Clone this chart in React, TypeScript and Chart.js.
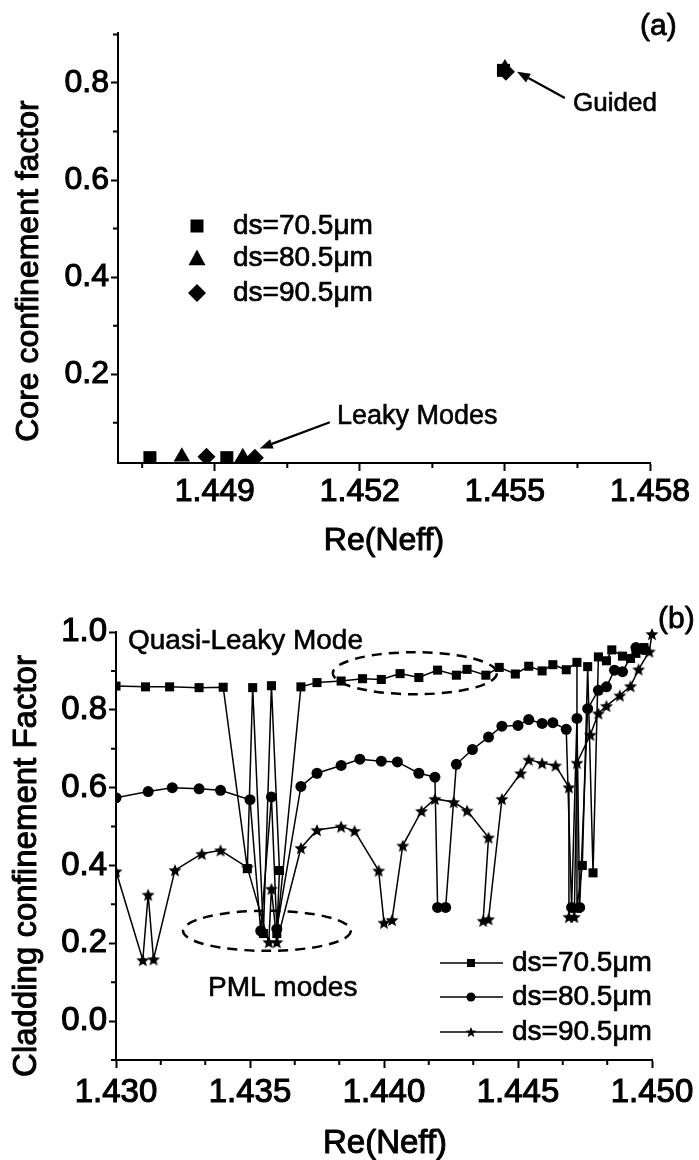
import React, { useEffect, useRef } from "react";
import { Chart, registerables } from "chart.js";

Chart.register(...registerables);

const FONT = '"Liberation Sans", Arial, Helvetica, sans-serif';

// ---------------- Panel (a) data ----------------
const seriesNames = ["ds=70.5μm", "ds=80.5μm", "ds=90.5μm"];
const a70X = [1.44766, 1.44925, 1.45497];
const a70Y = [0.028, 0.028, 0.826];
const a80X = [1.44832, 1.44958, 1.455];
const a80Y = [0.03, 0.029, 0.83];
const a90X = [1.44883, 1.44983, 1.45502];
const a90Y = [0.03, 0.028, 0.823];
const aXTicks = [1.449, 1.452, 1.455, 1.458];
const aXMinor = [1.4475, 1.4505, 1.4535, 1.4565];
const aYTicks = [0.2, 0.4, 0.6, 0.8];
const aYMinor = [0.1, 0.3, 0.5, 0.7, 0.9];

// ---------------- Panel (b) data ----------------
const b70X = [1.43, 1.4311, 1.432, 1.4331, 1.434, 1.4349, 1.4351, 1.4355, 1.4358, 1.4361, 1.436, 1.4369, 1.4375, 1.4384, 1.4392, 1.4399, 1.4406, 1.4413, 1.442, 1.4427, 1.4431, 1.4438, 1.4443, 1.4449, 1.4454, 1.4459, 1.4463, 1.4468, 1.4472, 1.4472, 1.4474, 1.4476, 1.4478, 1.448, 1.4483, 1.4485, 1.4489, 1.4492, 1.4494, 1.4497];
const b70Y = [0.861, 0.859, 0.859, 0.857, 0.858, 0.392, 0.857, 0.225, 0.862, 0.387, 0.225, 0.859, 0.87, 0.874, 0.88, 0.878, 0.893, 0.883, 0.902, 0.889, 0.904, 0.889, 0.909, 0.892, 0.912, 0.9, 0.916, 0.903, 0.922, 0.29, 0.4, 0.911, 0.381, 0.936, 0.926, 0.954, 0.938, 0.932, 0.945, 0.96];
const b80X = [1.43, 1.4312, 1.4321, 1.4331, 1.4339, 1.435, 1.4354, 1.4358, 1.436, 1.4369, 1.4375, 1.4384, 1.4391, 1.4399, 1.4405, 1.4413, 1.4419, 1.442, 1.4423, 1.4427, 1.4433, 1.4439, 1.4444, 1.445, 1.4454, 1.4459, 1.4463, 1.4468, 1.447, 1.4472, 1.4473, 1.4476, 1.448, 1.4483, 1.4486, 1.4489, 1.4494, 1.4497];
const b80Y = [0.574, 0.59, 0.6, 0.597, 0.593, 0.569, 0.232, 0.576, 0.237, 0.603, 0.637, 0.657, 0.673, 0.668, 0.666, 0.637, 0.627, 0.292, 0.292, 0.66, 0.698, 0.73, 0.758, 0.76, 0.775, 0.765, 0.767, 0.75, 0.292, 0.778, 0.292, 0.803, 0.85, 0.859, 0.902, 0.898, 0.96, 0.955];
const b90X = [1.43, 1.431, 1.4312, 1.4314, 1.4322, 1.4332, 1.4339, 1.4349, 1.4357, 1.4358, 1.436, 1.4369, 1.4375, 1.4384, 1.4389, 1.4398, 1.44, 1.4403, 1.4407, 1.4414, 1.4419, 1.4426, 1.4431, 1.4439, 1.4437, 1.4439, 1.4444, 1.4451, 1.4454, 1.4459, 1.4464, 1.4469, 1.4469, 1.4471, 1.4472, 1.4477, 1.448, 1.4483, 1.4488, 1.4492, 1.4495, 1.4499, 1.45];
const b90Y = [0.385, 0.157, 0.325, 0.159, 0.388, 0.43, 0.439, 0.395, 0.203, 0.34, 0.203, 0.445, 0.491, 0.5, 0.489, 0.387, 0.253, 0.26, 0.451, 0.54, 0.571, 0.563, 0.541, 0.472, 0.258, 0.262, 0.571, 0.637, 0.672, 0.663, 0.657, 0.601, 0.268, 0.268, 0.664, 0.736, 0.791, 0.81, 0.837, 0.861, 0.904, 0.95, 0.995];
const bXTicks = [1.43, 1.435, 1.44, 1.445, 1.45];
const bXMinor = [1.43167, 1.43333, 1.43667, 1.43833, 1.44167, 1.44333, 1.44667, 1.44833];
const bYTicks = [0.0, 0.2, 0.4, 0.6, 0.8, 1.0];
const bYMinor = [-0.1, 0.1, 0.3, 0.5, 0.7, 0.9];

type Pt = { x: number; y: number };
const zip = (xs: number[], ys: number[]): Pt[] => xs.map((x, i) => ({ x, y: ys[i] }));

function starPath(ctx: CanvasRenderingContext2D, cx: number, cy: number, R: number, r: number) {
  ctx.beginPath();
  for (let i = 0; i < 10; i++) {
    const ang = -Math.PI / 2 + (i * Math.PI) / 5;
    const rad = i % 2 === 0 ? R : r;
    const px = cx + rad * Math.cos(ang);
    const py = cy + rad * Math.sin(ang);
    if (i === 0) ctx.moveTo(px, py);
    else ctx.lineTo(px, py);
  }
  ctx.closePath();
}

function makeStarImage(R: number): HTMLCanvasElement {
  const c = document.createElement("canvas");
  const s = Math.ceil(2 * R + 2);
  c.width = s;
  c.height = s;
  const ctx = c.getContext("2d")!;
  ctx.fillStyle = "#000";
  starPath(ctx, s / 2, s / 2 + R * 0.1, R, R * 0.45);
  ctx.fill();
  return c;
}

function drawMarker(ctx: CanvasRenderingContext2D, style: string, x: number, y: number, size: number) {
  ctx.save();
  ctx.fillStyle = "#000";
  const h = size / 2;
  if (style === "rect") {
    ctx.fillRect(x - h, y - h, size, size);
  } else if (style === "circle") {
    ctx.beginPath();
    ctx.arc(x, y, h, 0, Math.PI * 2);
    ctx.fill();
  } else if (style === "triangle") {
    ctx.beginPath();
    ctx.moveTo(x, y - h);
    ctx.lineTo(x + h, y + h * 0.85);
    ctx.lineTo(x - h, y + h * 0.85);
    ctx.closePath();
    ctx.fill();
  } else if (style === "rectRot") {
    ctx.beginPath();
    ctx.moveTo(x, y - h);
    ctx.lineTo(x + h, y);
    ctx.lineTo(x, y + h);
    ctx.lineTo(x - h, y);
    ctx.closePath();
    ctx.fill();
  } else if (style === "star") {
    starPath(ctx, x, y + h * 0.1, h, h * 0.45);
    ctx.fill();
  }
  ctx.restore();
}

function text(ctx: CanvasRenderingContext2D, s: string, x: number, y: number, size: number, stroke = 0.6, align: CanvasTextAlign = "left", rot = 0) {
  ctx.save();
  ctx.fillStyle = "#000";
  ctx.strokeStyle = "#000";
  ctx.lineJoin = "round";
  ctx.font = `${size}px ${FONT}`;
  ctx.textAlign = align;
  ctx.textBaseline = "middle";
  ctx.translate(x, y);
  if (rot) ctx.rotate(rot);
  ctx.fillText(s, 0, 0);
  if (stroke > 0) {
    ctx.lineWidth = stroke;
    ctx.strokeText(s, 0, 0);
  }
  ctx.restore();
}

function arrow(ctx: CanvasRenderingContext2D, x1: number, y1: number, x2: number, y2: number) {
  ctx.save();
  ctx.strokeStyle = "#000";
  ctx.fillStyle = "#000";
  ctx.lineWidth = 2.2;
  const ang = Math.atan2(y2 - y1, x2 - x1);
  const hl = 13;
  const hw = 5;
  const bx = x2 - hl * Math.cos(ang);
  const by = y2 - hl * Math.sin(ang);
  ctx.beginPath();
  ctx.moveTo(x1, y1);
  ctx.lineTo(bx, by);
  ctx.stroke();
  ctx.beginPath();
  ctx.moveTo(x2, y2);
  ctx.lineTo(bx + hw * Math.sin(ang), by - hw * Math.cos(ang));
  ctx.lineTo(bx - hw * Math.sin(ang), by + hw * Math.cos(ang));
  ctx.closePath();
  ctx.fill();
  ctx.restore();
}

function minorTicks(chart: any, xs: number[], ys: number[], len: number) {
  const ctx: CanvasRenderingContext2D = chart.ctx;
  const xS = chart.scales.x;
  const yS = chart.scales.y;
  const a = chart.chartArea;
  ctx.save();
  ctx.strokeStyle = "#000";
  ctx.lineWidth = 2;
  ctx.beginPath();
  xs.forEach((v) => {
    const p = xS.getPixelForValue(v);
    ctx.moveTo(p, a.bottom);
    ctx.lineTo(p, a.bottom + len);
  });
  ys.forEach((v) => {
    const p = yS.getPixelForValue(v);
    ctx.moveTo(a.left, p);
    ctx.lineTo(a.left - len, p);
  });
  ctx.stroke();
  ctx.restore();
}

function dashedEllipse(chart: any, cx: number, cy: number, rx: number, ry: number) {
  const ctx: CanvasRenderingContext2D = chart.ctx;
  const xS = chart.scales.x;
  const yS = chart.scales.y;
  const px = xS.getPixelForValue(cx);
  const py = yS.getPixelForValue(cy);
  const prx = Math.abs(xS.getPixelForValue(cx + rx) - px);
  const pry = Math.abs(yS.getPixelForValue(cy + ry) - py);
  ctx.save();
  ctx.strokeStyle = "#000";
  ctx.lineWidth = 2.5;
  ctx.setLineDash([10, 7]);
  ctx.beginPath();
  ctx.ellipse(px, py, prx, pry, 0, 0, Math.PI * 2);
  ctx.stroke();
  ctx.restore();
}

const annotA = {
  id: "annotA",
  afterDraw(chart: any) {
    const ctx: CanvasRenderingContext2D = chart.ctx;
    const xS = chart.scales.x;
    const yS = chart.scales.y;
    minorTicks(chart, aXMinor, aYMinor, 5);
    text(ctx, "Core confinement factor", 29, 271, 32, 1.0, "center", -Math.PI / 2);
    text(ctx, "Re(Neff)", 384, 541, 32, 1.0, "center");
    text(ctx, "(a)", 640, 27, 30, 0.8);
    text(ctx, "Guided", 573, 104, 26, 0.6);
    text(ctx, "Leaky Modes", 337, 417, 27, 0.6);
    arrow(ctx, xS.getPixelForValue(1.45624), yS.getPixelForValue(0.769), xS.getPixelForValue(1.45525), yS.getPixelForValue(0.823));
    arrow(ctx, xS.getPixelForValue(1.45138), yS.getPixelForValue(0.101), xS.getPixelForValue(1.44993), yS.getPixelForValue(0.047));
    const styles = ["rect", "triangle", "rectRot"];
    const sizes = [13, 17, 18];
    const rows = [226, 258, 293];
    seriesNames.forEach((n, i) => {
      drawMarker(ctx, styles[i], 197, rows[i], sizes[i]);
      text(ctx, n, 233, rows[i], 28, 0.7);
    });
  },
};

const annotB = {
  id: "annotB",
  afterDraw(chart: any) {
    const ctx: CanvasRenderingContext2D = chart.ctx;
    minorTicks(chart, bXMinor, bYMinor, 5);
    text(ctx, "Cladding confinement Factor", 27, 286, 33, 1.0, "center", -Math.PI / 2);
    text(ctx, "Re(Neff)", 385, 564, 33, 1.0, "center");
    text(ctx, "(b)", 658, 40, 30, 0.8);
    text(ctx, "Quasi-Leaky Mode", 128, 61, 28, 0.6);
    text(ctx, "PML modes", 208, 408, 28, 0.6);
    dashedEllipse(chart, 1.44115, 0.894, 0.00306, 0.054);
    dashedEllipse(chart, 1.43563, 0.232, 0.00313, 0.0515);
    const styles = ["rect", "circle", "star"];
    const sizes = [8, 9, 11];
    const rows = [383, 417, 452];
    seriesNames.forEach((n, i) => {
      ctx.save();
      ctx.strokeStyle = "#000";
      ctx.lineWidth = 1.3;
      ctx.beginPath();
      ctx.moveTo(440, rows[i]);
      ctx.lineTo(503, rows[i]);
      ctx.stroke();
      ctx.restore();
      drawMarker(ctx, styles[i], 471, rows[i], sizes[i]);
      text(ctx, n, 512, rows[i], 28, 0.7);
    });
  },
};

function axisStyle(tickSize: number, pad: number, tickLen: number, fmt: number) {
  return {
    ticks: {
      font: { family: FONT, size: tickSize },
      color: "#000",
      textStrokeColor: "#000",
      textStrokeWidth: 1.1,
      padding: pad,
      maxRotation: 0,
      autoSkip: false,
      callback: (v: any) => Number(v).toFixed(fmt),
    },
    grid: { display: true, drawOnChartArea: false, drawTicks: true, tickLength: tickLen, tickWidth: 2, tickColor: "#000" },
    border: { display: true, color: "#000", width: 2 },
  };
}

export default function App() {
  const refA = useRef<HTMLCanvasElement>(null);
  const refB = useRef<HTMLCanvasElement>(null);

  useEffect(() => {
    const star = makeStarImage(6.8);
    const clipA = { left: 0, top: 30, right: 30, bottom: 0 };
    const clipB = { left: 0, top: 20, right: 20, bottom: 10 };
    const pointBase = { pointBackgroundColor: "#000", pointBorderColor: "#000", pointBorderWidth: 0, borderColor: "#000", backgroundColor: "#000" };

    const chartA = new Chart(refA.current!, {
      type: "scatter",
      data: {
        datasets: [
          { label: seriesNames[0], data: zip(a70X, a70Y), pointStyle: "rect", pointRadius: 9.2, showLine: false, clip: clipA, ...pointBase },
          { label: seriesNames[1], data: zip(a80X, a80Y), pointStyle: "triangle", pointRadius: 9.5, showLine: false, clip: clipA, ...pointBase },
          { label: seriesNames[2], data: zip(a90X, a90Y), pointStyle: "rectRot", pointRadius: 9, showLine: false, clip: clipA, ...pointBase },
        ],
      },
      options: {
        responsive: false,
        animation: false,
        events: [],
        layout: { padding: { left: 0, top: 33, right: 49, bottom: 0 } },
        plugins: { legend: { display: false }, tooltip: { enabled: false } },
        scales: {
          x: {
            type: "linear",
            position: "bottom",
            min: 1.447,
            max: 1.458,
            afterBuildTicks: (s: any) => { s.ticks = aXTicks.map((v) => ({ value: v })); },
            afterFit: (s: any) => { s.height = 117; },
            ...axisStyle(32, 2, 8, 3),
          },
          y: {
            type: "linear",
            position: "left",
            min: 0.017,
            max: 0.903,
            afterBuildTicks: (s: any) => { s.ticks = aYTicks.map((v) => ({ value: v })); },
            afterFit: (s: any) => { s.width = 118; },
            ...axisStyle(32, 2, 7, 1),
          },
        },
      } as any,
      plugins: [annotA],
    });

    const chartB = new Chart(refB.current!, {
      type: "scatter",
      data: {
        datasets: [
          { label: seriesNames[0], data: zip(b70X, b70Y), pointStyle: "rect", pointRadius: 6.4, showLine: true, borderWidth: 1.5, clip: clipB, ...pointBase },
          { label: seriesNames[1], data: zip(b80X, b80Y), pointStyle: "circle", pointRadius: 5.5, showLine: true, borderWidth: 1.5, clip: clipB, ...pointBase },
          { label: seriesNames[2], data: zip(b90X, b90Y), pointStyle: star, pointRadius: 6, showLine: true, borderWidth: 1.5, clip: clipB, ...pointBase },
        ],
      },
      options: {
        responsive: false,
        animation: false,
        events: [],
        layout: { padding: { left: 0, top: 52, right: 47, bottom: 0 } },
        plugins: { legend: { display: false }, tooltip: { enabled: false } },
        scales: {
          x: {
            type: "linear",
            position: "bottom",
            min: 1.43,
            max: 1.45,
            afterBuildTicks: (s: any) => { s.ticks = bXTicks.map((v) => ({ value: v })); },
            afterFit: (s: any) => { s.height = 100; },
            ...axisStyle(33, 5, 8, 3),
          },
          y: {
            type: "linear",
            position: "left",
            min: -0.1,
            max: 1.0,
            afterBuildTicks: (s: any) => { s.ticks = bYTicks.map((v) => ({ value: v })); },
            afterFit: (s: any) => { s.width = 116; },
            ...axisStyle(33, 2, 7, 1),
          },
        },
      } as any,
      plugins: [annotB],
    });

    return () => {
      chartA.destroy();
      chartB.destroy();
    };
  }, []);

  return (
    <div style={{ position: "absolute", left: 0, top: 0, width: 699, height: 1160, background: "#fff" }}>
      <canvas ref={refA} width={699} height={580} style={{ position: "absolute", left: 0, top: 0, width: 699, height: 580 }} />
      <canvas ref={refB} width={699} height={580} style={{ position: "absolute", left: 0, top: 580, width: 699, height: 580 }} />
    </div>
  );
}
